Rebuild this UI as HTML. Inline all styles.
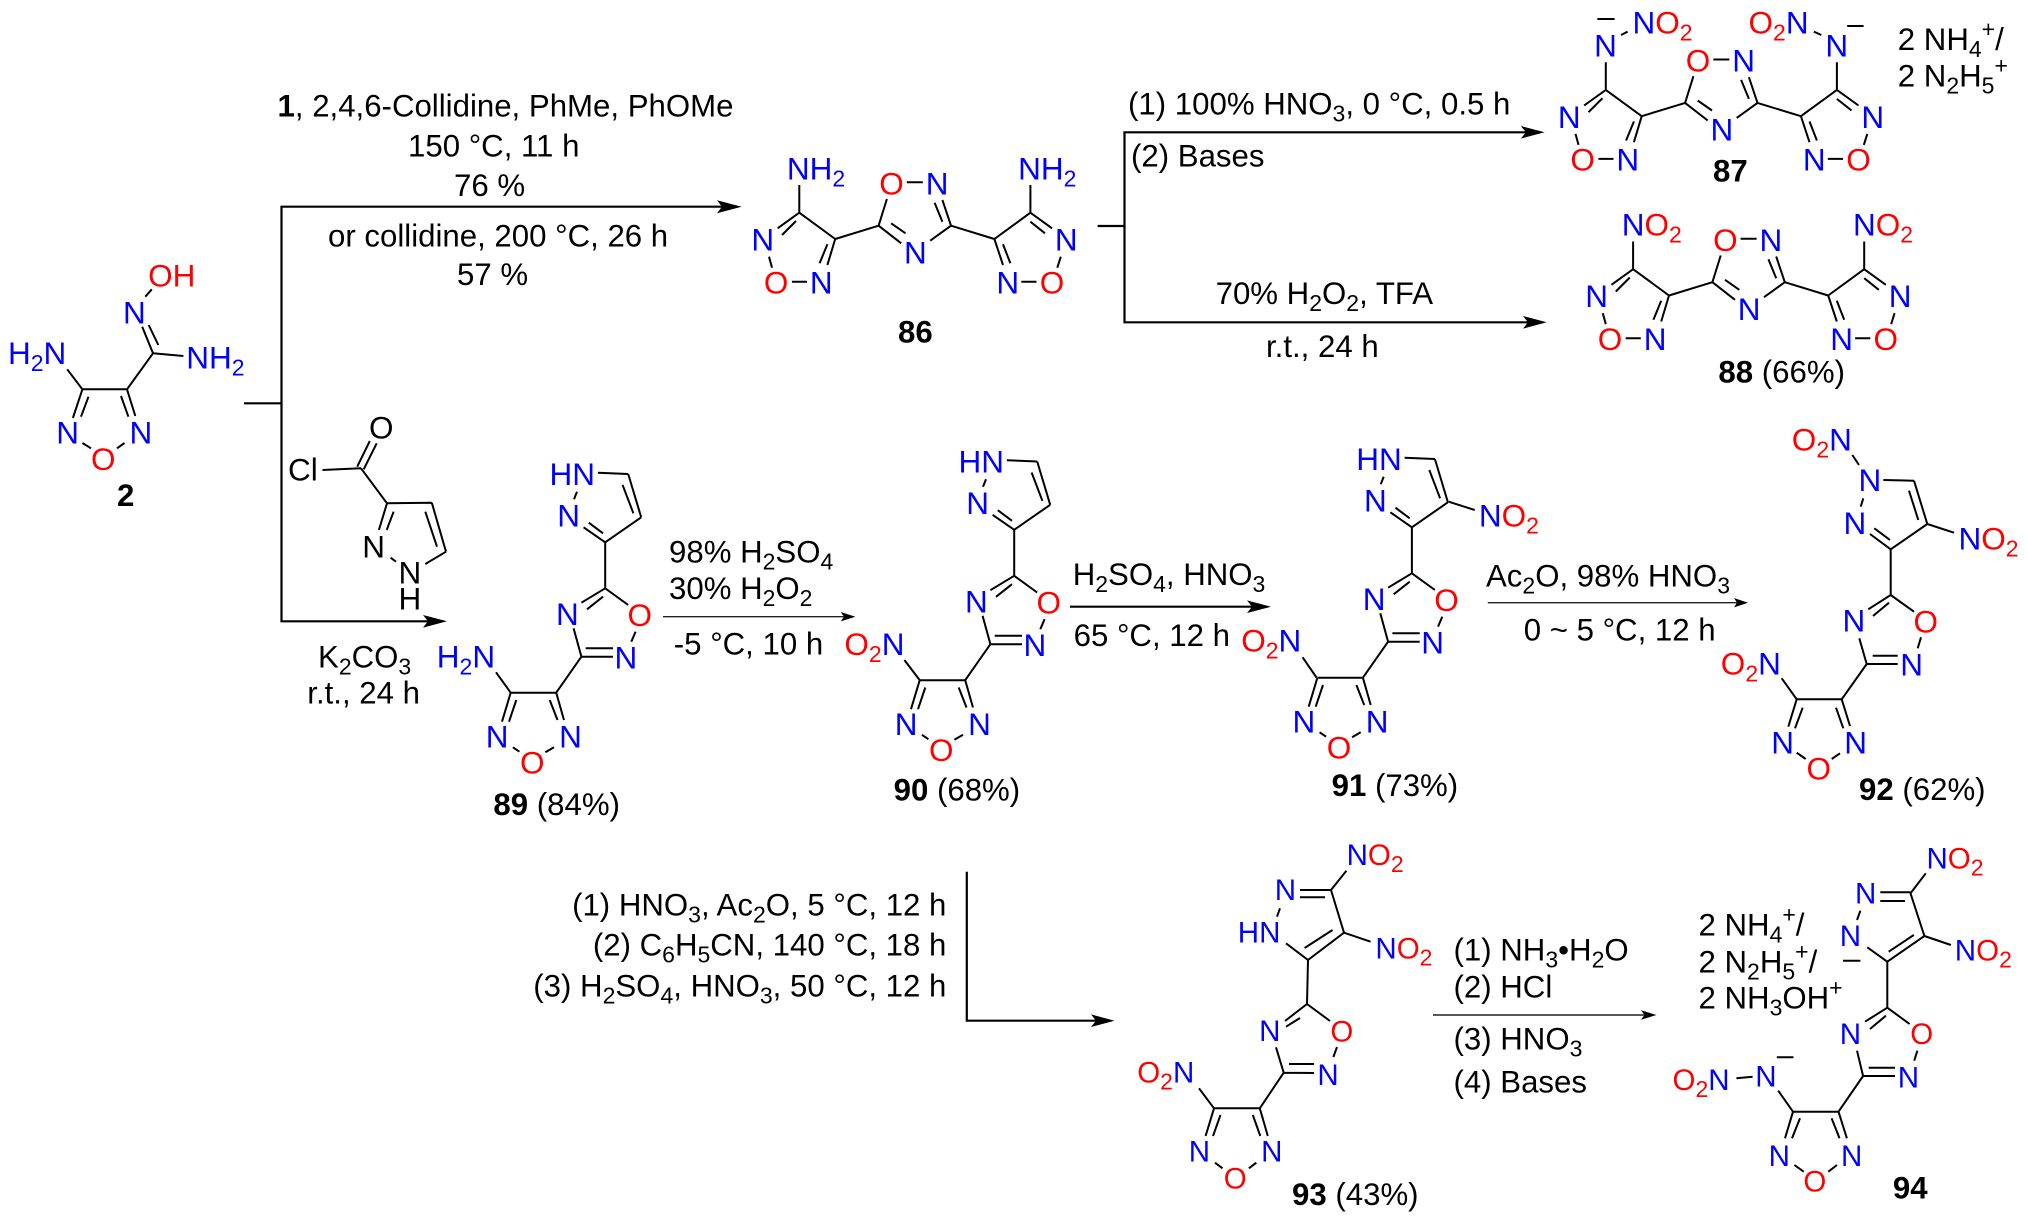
<!DOCTYPE html>
<html lang="en"><head><meta charset="utf-8"><title>Reaction scheme</title>
<style>
html,body{margin:0;padding:0;background:#fff;width:2028px;height:1224px;overflow:hidden}
svg{display:block}
text{font-family:"Liberation Sans",sans-serif;font-size:31.2px;fill:#000}
.a text{font-size:31.5px;transform:translate(-1.5px,0)}
text.c{font-size:29.5px;transform:translate(-1.2px,0)}
.b{fill:#0000ff}.r{fill:#ff0000}
.k{fill:#000}
.h{font-weight:bold}
.s{font-size:23px}
.bd{fill:none;stroke:#000;stroke-width:2;stroke-linecap:butt}
.ln{fill:none;stroke:#000;stroke-width:2.2}
.tn{fill:none;stroke:#222;stroke-width:1.4}
</style></head><body>
<svg xmlns="http://www.w3.org/2000/svg" width="2028" height="1224" viewBox="0 0 2028 1224">
<defs>
<path id="c86" class="bd" d="M799.3 185L799.3 212.7M799.3 212.7L777.6 228.3M796 221L782 235M799.3 212.7L835.2 239M835.2 239L827.4 265M827.4 244.3L819.6 263.3M791.9 281.7L807 281.7M769 256.7L772 267.7M835.2 239L878.6 225.7M906.8 182.3L922.8 182.3M942.4 200L951 225.7M934.6 202.7L942.4 221.7M951 225.7L930.2 240.7M878.6 225.7L901.2 243.3M891.2 223.3L905.5 233.3M886.9 199L878.6 225.7M951 225.7L994.4 239M994.4 239L1030.4 212.7M1030.4 185L1030.4 212.7M1030.4 212.7L1052 228.3M1030.4 221.7L1045 233.3M994.4 239L1003 265M1003 244.3L1010.4 263.3M1021.3 281.7L1036.5 281.7M1060.8 256.7L1057.3 267.7"/>
<path id="c89" class="bd" d="M597.9 472.7L628.2 474M628.2 474L641.2 517.3M622.6 485L633.4 513.3M641.2 517.3L605.2 542.3M605.2 542.3L583.6 527.3M603 533.3L588.8 522.7M577 491.7L574 499.3M605.2 542.3L605.2 588.3M605.2 588.3L628.2 605M605.2 588.3L581.4 602.7M603 596.7L587 609.3M573.6 628.3L581.4 656.7M581.4 656.7L613 656.7M585.7 648.3L613 648.3M635.6 631.7L631.3 641.7M581.4 656.7L556.2 692.7M556.2 692.7L510.7 692.7M510.7 692.7L502 721.7M516.3 700L509 721.7M556.2 692.7L564 720M549.7 700L557.5 720M512.9 747.3L519.4 751.7M554 747.3L545.4 752.3"/>
</defs>

<!-- brackets and arrows -->
<path class="ln" d="M244 403.3H281.5M281.5 206.7V621.3M280.4 206.7H725M280.4 621.3H430"/>
<path d="M741.6 206.7L717 200.2L722 206.7L717 213.2Z"/>
<path d="M447 621.3L423 615L428 621.3L423 627.6Z"/>
<path class="ln" d="M1097.6 226H1124.5M1124.5 132.3V322.3M1123.4 132.3H1528M1123.4 322.3H1530"/>
<path d="M1544.6 132.3L1520.8 126L1526 132.3L1520.8 138.6Z"/>
<path d="M1546.7 322.3L1523 316L1528 322.3L1523 328.6Z"/>
<path class="tn" d="M663 616.7H845"/><path d="M855.4 616.7L840.7 612L844 616.7L840.7 621.4Z"/>
<path class="ln" d="M1070 606.7H1255"/><path d="M1271 606.7L1247 600.4L1252 606.7L1247 613Z"/>
<path class="tn" d="M1487.8 602.7H1738"/><path d="M1748 602.7L1734 598L1737 602.7L1734 607.4Z"/>
<path class="ln" d="M966.8 871.7V1020.7M965.7 1020.7H1098"/><path d="M1114.5 1020.7L1091 1014.4L1096 1020.7L1091 1027Z"/>
<path class="tn" d="M1433 1015H1645"/><path d="M1656.5 1015L1641 1010.3L1644.5 1015L1641 1019.7Z"/>

<!-- conditions -->
<text x="277.5" y="116.7"><tspan class="h">1</tspan>, 2,4,6-Collidine, PhMe, PhOMe</text>
<text x="408" y="156.7">150 °C, 11 h</text>
<text x="454" y="196">76 %</text>
<text x="328" y="246.7">or collidine, 200 °C, 26 h</text>
<text x="457" y="285">57 %</text>
<text x="1128" y="114.3">(1) 100% HNO<tspan class="s" dy="7">3</tspan><tspan dy="-7">, 0 °C, 0.5 h</tspan></text>
<text x="1131" y="166.7">(2) Bases</text>
<text x="1215.6" y="304">70% H<tspan class="s" dy="7">2</tspan><tspan dy="-7">O</tspan><tspan class="s" dy="7">2</tspan><tspan dy="-7">, TFA</tspan></text>
<text x="1266" y="357">r.t., 24 h</text>
<text x="1897.8" y="50">2 NH<tspan class="s" dy="7">4</tspan><tspan class="s" dy="-20">+</tspan><tspan dy="13">/</tspan></text>
<text x="1897.8" y="86.7">2 N<tspan class="s" dy="7">2</tspan><tspan dy="-7">H</tspan><tspan class="s" dy="7">5</tspan><tspan class="s" dy="-20">+</tspan></text>
<text x="318" y="667.3">K<tspan class="s" dy="7">2</tspan><tspan dy="-7">CO</tspan><tspan class="s" dy="7">3</tspan></text>
<text x="307.3" y="703.3">r.t., 24 h</text>
<text x="669" y="562.7">98% H<tspan class="s" dy="7">2</tspan><tspan dy="-7">SO</tspan><tspan class="s" dy="7">4</tspan></text>
<text x="669" y="599">30% H<tspan class="s" dy="7">2</tspan><tspan dy="-7">O</tspan><tspan class="s" dy="7">2</tspan></text>
<text x="673.8" y="654.3">-5 °C, 10 h</text>
<text x="1072.7" y="585">H<tspan class="s" dy="7">2</tspan><tspan dy="-7">SO</tspan><tspan class="s" dy="7">4</tspan><tspan dy="-7">, HNO</tspan><tspan class="s" dy="7">3</tspan></text>
<text x="1073.6" y="646">65 °C, 12 h</text>
<text x="1486" y="586.7">Ac<tspan class="s" dy="7">2</tspan><tspan dy="-7">O, 98% HNO</tspan><tspan class="s" dy="7">3</tspan></text>
<text x="1523.7" y="640.7">0 ~ 5 °C, 12 h</text>
<text x="946.4" y="915.7" text-anchor="end">(1) HNO<tspan class="s" dy="7">3</tspan><tspan dy="-7">, Ac</tspan><tspan class="s" dy="7">2</tspan><tspan dy="-7">O, 5 °C, 12 h</tspan></text>
<text x="946.4" y="955.7" text-anchor="end">(2) C<tspan class="s" dy="7">6</tspan><tspan dy="-7">H</tspan><tspan class="s" dy="7">5</tspan><tspan dy="-7">CN, 140 °C, 18 h</tspan></text>
<text x="946.4" y="996.7" text-anchor="end">(3) H<tspan class="s" dy="7">2</tspan><tspan dy="-7">SO</tspan><tspan class="s" dy="7">4</tspan><tspan dy="-7">, HNO</tspan><tspan class="s" dy="7">3</tspan><tspan dy="-7">, 50 °C, 12 h</tspan></text>
<text x="1453.5" y="960.7">(1) NH<tspan class="s" dy="7">3</tspan><tspan dy="-7">•H</tspan><tspan class="s" dy="7">2</tspan><tspan dy="-7">O</tspan></text>
<text x="1453.5" y="997.3">(2) HCl</text>
<text x="1453.5" y="1049.3">(3) HNO<tspan class="s" dy="7">3</tspan></text>
<text x="1453.5" y="1092.7">(4) Bases</text>
<text x="1698.5" y="935.7">2 NH<tspan class="s" dy="7">4</tspan><tspan class="s" dy="-20">+</tspan><tspan dy="13">/</tspan></text>
<text x="1698.5" y="972.3">2 N<tspan class="s" dy="7">2</tspan><tspan dy="-7">H</tspan><tspan class="s" dy="7">5</tspan><tspan class="s" dy="-20">+</tspan><tspan dy="13">/</tspan></text>
<text x="1698.5" y="1008.3">2 NH<tspan class="s" dy="7">3</tspan><tspan dy="-7">OH</tspan><tspan class="s" dy="-13">+</tspan></text>

<!-- compound labels -->
<text class="h" x="117" y="506">2</text>
<text class="h" x="898" y="342.3">86</text>
<text class="h" x="1713" y="181.7">87</text>
<text x="1718.4" y="382.3"><tspan class="h">88</tspan> (66%)</text>
<text x="493.4" y="815"><tspan class="h">89</tspan> (84%)</text>
<text x="893.6" y="800.7"><tspan class="h">90</tspan> (68%)</text>
<text x="1331.6" y="796"><tspan class="h">91</tspan> (73%)</text>
<text x="1859" y="800"><tspan class="h">92</tspan> (62%)</text>
<text x="1292" y="1205"><tspan class="h">93</tspan> (43%)</text>
<text class="h" x="1892.9" y="1198.3">94</text>

<!-- 2 -->
<path class="bd" d="M82.4 389.3L127 389.3M82.4 389.3L72.9 418M88.5 396.7L81 416.7M127 389.3L135.3 416M121 396L128.4 416.7M82.4 443L91 448.3M124.5 443L117 448.3M82.4 389.3L67.2 369.3M127 389.3L153 353.3M153 353.3L183.4 356M153 353.3L142.2 326.7M158.3 345L148.7 325M145.3 296.7L151.8 289.3"/>
<g class="a">
<text class="b" x="9.5" y="364">H<tspan class="s" dy="7">2</tspan><tspan dy="-7">N</tspan></text>
<text class="b" x="187.8" y="368.3">NH<tspan class="s" dy="7">2</tspan></text>
<text class="b" x="124.5" y="323.3">N</text>
<text class="r" x="149.6" y="286.7">OH</text>
<text class="b" x="57.7" y="443.3">N</text>
<text class="b" x="131" y="443.3">N</text>
<text class="r" x="92.5" y="470">O</text>
</g>

<!-- 86 -->
<use href="#c86"/>
<g class="a">
<text class="b" x="788.4" y="179.3">NH<tspan class="s" dy="7">2</tspan></text>
<text class="b" x="1019.6" y="179.3">NH<tspan class="s" dy="7">2</tspan></text>
<text class="b" x="752.9" y="250.7">N</text><text class="b" x="811.4" y="293.3">N</text><text class="r" x="765.4" y="293.3">O</text>
<text class="r" x="880.8" y="194.3">O</text><text class="b" x="927.2" y="194.3">N</text><text class="b" x="905.5" y="263.3">N</text>
<text class="b" x="1056.4" y="250.7">N</text><text class="b" x="997.9" y="293.3">N</text><text class="r" x="1041.2" y="293.3">O</text>
</g>

<!-- 87 -->
<use href="#c86" transform="translate(806.5,-122.8)"/>
<g transform="translate(806.5,-122.8)"><g class="a">
<text class="b" x="752.9" y="250.7">N</text><text class="b" x="811.4" y="293.3">N</text><text class="r" x="765.4" y="293.3">O</text>
<text class="r" x="880.8" y="194.3">O</text><text class="b" x="927.2" y="194.3">N</text><text class="b" x="905.5" y="263.3">N</text>
<text class="b" x="1056.4" y="250.7">N</text><text class="b" x="997.9" y="293.3">N</text><text class="r" x="1041.2" y="293.3">O</text>
</g></g>
<g class="a">
<text class="b" x="1595.6" y="56.7">N</text>
<text class="b" x="1634" y="33.3">N<tspan class="r">O</tspan><tspan class="r s" dy="7">2</tspan></text>
<text class="r" x="1750" y="33.3">O<tspan class="s" dy="7">2</tspan><tspan class="b" dy="-7">N</tspan></text>
<text class="b" x="1826.9" y="56.7">N</text>
</g>
<path class="bd" d="M1597.3 19H1614.6M1621 35L1627.6 31.7M1813.9 31.7L1821.3 35M1847.2 26H1863.6"/>

<!-- 88 -->
<use href="#c86" transform="translate(833.8,56.5)"/>
<g transform="translate(833.8,56.5)"><g class="a">
<text class="b" x="752.9" y="250.7">N</text><text class="b" x="811.4" y="293.3">N</text><text class="r" x="765.4" y="293.3">O</text>
<text class="r" x="880.8" y="194.3">O</text><text class="b" x="927.2" y="194.3">N</text><text class="b" x="905.5" y="263.3">N</text>
<text class="b" x="1056.4" y="250.7">N</text><text class="b" x="997.9" y="293.3">N</text><text class="r" x="1041.2" y="293.3">O</text>
</g></g>
<g class="a">
<text class="b" x="1623.2" y="235.7">N<tspan class="r">O</tspan><tspan class="r s" dy="7">2</tspan></text>
<text class="b" x="1854.5" y="235.7">N<tspan class="r">O</tspan><tspan class="r s" dy="7">2</tspan></text>
</g>

<!-- acid chloride -->
<path class="bd" d="M357.2 466.7L369.8 441M363.7 469.3L376.7 443.3M322.5 470L361 468.3M361 468.3L387 503.3M387 503.3L431.8 502.7M431.8 502.7L446 551.7M425.3 511.7L437 546.7M446 551.7L425.3 564M390.6 557.7L396 561.7M387 503.3L378.9 530M393.6 511.7L386.7 530"/>
<g class="a">
<text x="289.5" y="480.7">Cl</text>
<text x="370.5" y="438.3">O</text>
<text x="363.7" y="557.3">N</text>
<text x="400" y="583.3">N</text>
<text x="400" y="609.3">H</text>
</g>

<!-- 89 -->
<use href="#c89"/>
<path class="bd" d="M510.7 692.7L496 672.3"/>
<g class="a">
<text class="b" x="438.3" y="667.7">H<tspan class="s" dy="7">2</tspan><tspan dy="-7">N</tspan></text>
<text class="b" x="551" y="485">HN</text><text class="b" x="558.8" y="526.7">N</text>
<text class="b" x="557.5" y="625">N</text><text class="r" x="629" y="626">O</text><text class="b" x="616" y="668.3">N</text>
<text class="b" x="487.3" y="747.3">N</text><text class="b" x="560.6" y="747.3">N</text><text class="r" x="521.5" y="773.3">O</text>
</g>

<!-- 90 -->
<use href="#c89" transform="translate(409,-12.5)"/>
<path class="bd" d="M920 680.5L904.4 660"/>
<g transform="translate(409,-12.5)"><g class="a">
<text class="b" x="551" y="485">HN</text><text class="b" x="558.8" y="526.7">N</text>
<text class="b" x="557.5" y="625">N</text><text class="r" x="629" y="626">O</text><text class="b" x="616" y="668.3">N</text>
<text class="b" x="487.3" y="747.3">N</text><text class="b" x="560.6" y="747.3">N</text><text class="r" x="521.5" y="773.3">O</text>
</g></g>
<g class="a"><text class="r" x="845.9" y="655">O<tspan class="s" dy="7">2</tspan><tspan class="b" dy="-7">N</tspan></text></g>

<!-- 91 -->
<use href="#c89" transform="translate(806.7,-15)"/>
<path class="bd" d="M1316.5 677.5L1302.6 657.3M1448.7 501.7L1474.7 510"/>
<g transform="translate(806.7,-15)"><g class="a">
<text class="b" x="551" y="485">HN</text><text class="b" x="558.8" y="526.7">N</text>
<text class="b" x="557.5" y="625">N</text><text class="r" x="629" y="626">O</text><text class="b" x="616" y="668.3">N</text>
<text class="b" x="487.3" y="747.3">N</text><text class="b" x="560.6" y="747.3">N</text><text class="r" x="521.5" y="773.3">O</text>
</g></g>
<g class="a">
<text class="r" x="1242.7" y="651.7">O<tspan class="s" dy="7">2</tspan><tspan class="b" dy="-7">N</tspan></text>
<text class="b" x="1480.4" y="526.7">N<tspan class="r">O</tspan><tspan class="r s" dy="7">2</tspan></text>
</g>

<!-- 92 -->
<path class="bd" d="M1852.3 455L1859 465M1883.3 480L1914 480.7M1914 480.7L1927.3 524M1909 490.7L1918.3 520M1927.3 524L1890.7 549.3M1890.7 549.3L1870 534M1890 540L1874.3 528.3M1863.3 498.3L1860.7 506.7M1927.3 524L1954 532.7M1890.7 549.3L1890.7 595M1890.7 595L1914 611.7M1890.7 595L1868.3 609.3M1889 602.7L1873 616M1859.3 638.3L1866.7 664M1866.7 664L1897.7 664M1872.7 655.7L1897.7 655.7M1921 637.3L1917.7 648.3M1866.7 664L1841.7 699.3M1841.7 699.3L1796.7 699.3M1796.7 699.3L1788.3 726.7M1802.7 707.7L1795 728.3M1841.7 699.3L1850 726M1836 707.7L1843.3 728.3M1796.7 752.7L1805.7 759M1840 753.3L1831.7 759M1796.7 699.3L1781.7 678.3"/>
<g class="a">
<text class="r" x="1793.3" y="450.7">O<tspan class="s" dy="7">2</tspan><tspan class="b" dy="-7">N</tspan></text>
<text class="b" x="1860" y="491">N</text><text class="b" x="1845" y="534">N</text>
<text class="b" x="1960" y="549.3">N<tspan class="r">O</tspan><tspan class="r s" dy="7">2</tspan></text>
<text class="r" x="1915" y="632.3">O</text><text class="b" x="1844" y="631.7">N</text><text class="b" x="1901.7" y="675.7">N</text>
<text class="b" x="1772.7" y="753.3">N</text><text class="b" x="1845.7" y="753.3">N</text><text class="r" x="1808" y="779.3">O</text>
<text class="r" x="1722.3" y="674.3">O<tspan class="s" dy="7">2</tspan><tspan class="b" dy="-7">N</tspan></text>
</g>

<!-- 93 -->
<path class="bd" d="M1214 1108.3L1259.8 1108.3M1214 1108.3L1205.6 1136M1220.5 1115L1213 1136M1259.8 1108.3L1267.8 1136M1252.8 1115L1260.3 1136M1215 1162.7L1222.5 1168.3M1256.3 1162.7L1248.9 1168.3M1214 1108.3L1199 1088.3M1259.8 1108.3L1283.7 1072.7M1307 1004L1330 1021M1307 1004L1285 1021M1300 1018L1286 1026.7M1276 1047.3L1283.7 1072.7M1283.7 1072.7L1314 1073M1289 1064L1314 1064M1337 1047L1333.4 1057M1308 960L1307 1004M1308 960L1344 932.7M1304.6 948L1332.5 930M1344 932.7L1331 890M1300 890L1331 890M1300 897.3L1325 897.3M1280 908.3L1277 916.7M1286 943.3L1308 960M1331 890L1346.4 870.7M1344 932.7L1370.6 941.7"/>
<g>
<text class="c r" x="1138.4" y="1082.7">O<tspan class="s" dy="7">2</tspan><tspan class="b" dy="-7">N</tspan></text>
<text class="c b" x="1190" y="1161.7">N</text>
<text class="c b" x="1262.3" y="1161.7">N</text>
<text class="c r" x="1225" y="1188.3">O</text>
<text class="c b" x="1260.3" y="1041">N</text>
<text class="c r" x="1331.6" y="1041.7">O</text>
<text class="c b" x="1318.6" y="1085">N</text>
<text class="c b" x="1276" y="900">N</text>
<text class="c b" x="1239" y="942.7">HN</text>
<text class="c b" x="1347.8" y="865">N<tspan class="r">O</tspan><tspan class="r s" dy="7">2</tspan></text>
<text class="c b" x="1376.6" y="958.3">N<tspan class="r">O</tspan><tspan class="r s" dy="7">2</tspan></text>
</g>

<!-- 94 -->
<path class="bd" d="M1910.5 893.3L1925.8 873.3M1880.3 892.3L1910.5 892.3M1880.3 901L1905 901M1910.5 893.3L1924.4 936M1924.4 936L1887.3 961.7M1913.8 935L1888.7 951.7M1887.3 961.7L1867.3 947.3M1860.4 910.7L1857 920M1924.4 936L1950.9 945M1887.3 961.7L1887.3 1007.7M1887.3 1007.7L1909.6 1024M1887.3 1007.7L1865 1021.7M1885.9 1015.7L1870 1029M1857 1050.7L1863.1 1076M1863.1 1076L1895 1076M1868.7 1067.7L1895 1067.7M1917.4 1050.7L1914.2 1060.7M1863.1 1076L1838.5 1111.7M1838.5 1111.7L1793 1111.7M1793 1111.7L1785 1138.3M1800 1118.3L1792 1138.3M1838.5 1111.7L1846.9 1138.3M1831.6 1118.3L1839.5 1138.3M1794.4 1165L1803.7 1171.7M1837 1165L1828.3 1171.7M1793 1111.7L1778.2 1090.7M1736.4 1078.3L1752.6 1076.7M1843 960.7H1860.4M1776.8 1057.3H1793.5"/>
<g>
<text class="c b" x="1927.7" y="868.3">N<tspan class="r">O</tspan><tspan class="r s" dy="7">2</tspan></text>
<text class="c b" x="1856.2" y="903.3">N</text>
<text class="c b" x="1840.9" y="946">N</text>
<text class="c b" x="1956" y="960.7">N<tspan class="r">O</tspan><tspan class="r s" dy="7">2</tspan></text>
<text class="c r" x="1911.4" y="1044">O</text>
<text class="c b" x="1840.9" y="1044">N</text>
<text class="c b" x="1898.9" y="1087.3">N</text>
<text class="c b" x="1769.8" y="1166">N</text>
<text class="c b" x="1842.2" y="1166">N</text>
<text class="c r" x="1804.6" y="1191.7">O</text>
<text class="c b" x="1756.4" y="1086.7">N</text>
<text class="c r" x="1673.7" y="1090">O<tspan class="s" dy="7">2</tspan><tspan class="b" dy="-7">N</tspan></text>
</g>
</svg>
</body></html>
